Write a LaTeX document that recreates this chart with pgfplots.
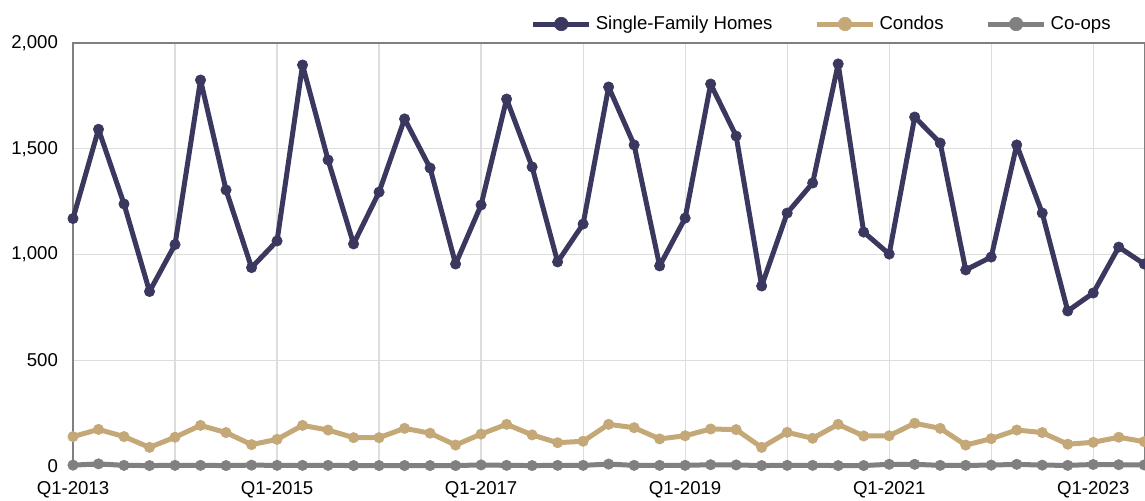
\documentclass[border=0pt]{standalone}
\usepackage{pgfplots}
\pgfplotsset{compat=1.18}
\usepackage{fontspec}
\setmainfont{Liberation Sans}
\definecolor{sfh}{HTML}{3A385E}
\definecolor{condo}{HTML}{C4A877}
\definecolor{coop}{HTML}{808080}
\definecolor{gridc}{HTML}{DDDDDD}
\begin{document}
\begin{tikzpicture}
\begin{axis}[
  at={(0,0)}, anchor=south west,
  scale only axis, width=536pt, height=211.5pt,
  xmin=0, xmax=42.03, ymin=0, ymax=2000,
  clip=false,
  font=\fontsize{9.3}{11}\selectfont,
  /pgf/number format/assume math mode=true,
  /pgf/number format/1000 sep={,},
  ytick={0,500,1000,1500,2000},
  xtick={0,4,...,40},
  xticklabels={Q1-2013,,Q1-2015,,Q1-2017,,Q1-2019,,Q1-2021,,Q1-2023},
  major tick length=0pt,
  grid=major, grid style={gridc, line width=0.6pt},
  axis line style={draw=gray, line width=0.7pt},
  yticklabel style={xshift=-4pt},
  xticklabel style={yshift=-4pt},
  every axis plot/.append style={line width=2.5pt, mark=*, line join=round},
  legend columns=3,
  legend style={at={(0.972,1.015)}, anchor=south east, draw=none, fill=none,
    font=\fontsize{9.3}{11}\selectfont, inner sep=0pt,
    /tikz/every even column/.append style={column sep=19pt}},
  legend cell align=left,
  legend image post style={mark options={scale=1.3, line width=0.3pt}},
  legend image code/.code={\draw[mark repeat=2,mark phase=2] plot coordinates {(0pt,0pt) (14pt,0pt) (28pt,0pt)};},
]
\addplot[color=sfh, mark size=2.6pt, mark options={fill=sfh, line width=0.3pt}] coordinates {
(0,1170) (1,1592) (2,1239) (3,825) (4,1047) (5,1825) (6,1305) (7,938) (8,1064) (9,1896)
(10,1447) (11,1050) (12,1295) (13,1641) (14,1409) (15,955) (16,1234) (17,1735) (18,1414) (19,965)
(20,1144) (21,1792) (22,1518) (23,946) (24,1172) (25,1806) (26,1560) (27,851) (28,1196) (29,1338)
(30,1901) (31,1106) (32,1002) (33,1650) (34,1527) (35,927) (36,988) (37,1518) (38,1196) (39,733)
(40,818) (41,1035) (42,955)
};
\addlegendentry{Single-Family Homes}
\addplot[color=condo, mark size=2.6pt, mark options={fill=condo, line width=0.3pt}] coordinates {
(0,139) (1,173) (2,139) (3,88) (4,136) (5,192) (6,158) (7,101) (8,126) (9,192)
(10,170) (11,134) (12,134) (13,178) (14,155) (15,99) (16,151) (17,197) (18,147) (19,110)
(20,117) (21,197) (22,181) (23,128) (24,143) (25,175) (26,172) (27,88) (28,159) (29,131)
(30,197) (31,142) (32,143) (33,202) (34,178) (35,99) (36,129) (37,170) (38,158) (39,103)
(40,112) (41,136) (42,115)
};
\addlegendentry{Condos}
\addplot[color=coop, mark size=2.6pt, mark options={fill=coop, line width=0.3pt}] coordinates {
(0,4) (1,10) (2,3) (3,2) (4,3) (5,3) (6,2) (7,4) (8,3) (9,3)
(10,3) (11,2) (12,2) (13,2) (14,2) (15,2) (16,5) (17,3) (18,2) (19,3)
(20,3) (21,9) (22,3) (23,3) (24,3) (25,6) (26,5) (27,2) (28,3) (29,3)
(30,2) (31,2) (32,8) (33,8) (34,3) (35,3) (36,4) (37,8) (38,4) (39,3)
(40,7) (41,6) (42,5)
};
\addlegendentry{Co-ops}
\end{axis}
\pgfresetboundingbox
\path (-36.5pt,-17.5pt) rectangle (536pt,233pt);
\end{tikzpicture}
\end{document}
